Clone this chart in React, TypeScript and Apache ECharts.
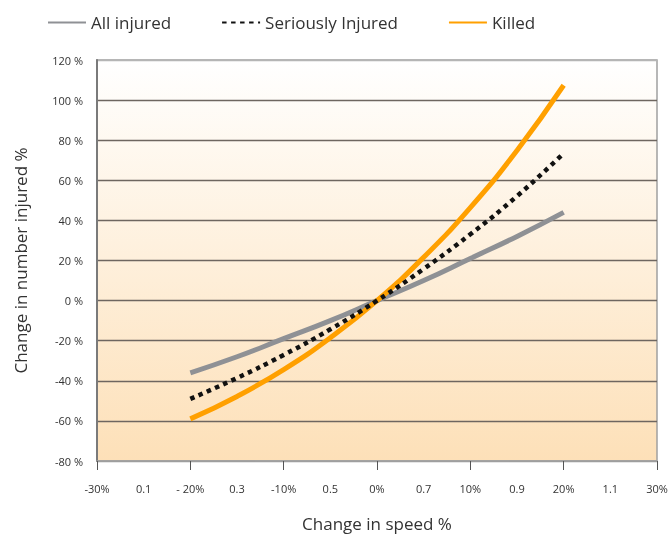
import React, { useEffect, useRef } from "react";
import * as echarts from "echarts";

const speedX = [-20, -15, -10, -5, 0, 5, 10, 15, 20];
const allInjured = [-36, -28, -19, -10, 0, 10, 21, 32, 44];
const seriouslyInjured = [-49, -38.6, -27.1, -14.3, 0, 15.8, 33.1, 52.1, 73.5];
const killed = [-59, -47.8, -34.4, -18.5, 0, 21.6, 46.4, 74.9, 107.4];
const xTickValues = [-30, -25, -20, -15, -10, -5, 0, 5, 10, 15, 20, 25, 30];
const xTickLabels = ["-30%", "0.1", "- 20%", "0.3", "-10%", "0.5", "0%", "0.7", "10%", "0.9", "20%", "1.1", "30%"];

const FONT = "'Open Sans', 'Noto Sans', sans-serif";

export default function App() {
  const ref = useRef<HTMLDivElement>(null);
  useEffect(() => {
    if (!ref.current) return;
    const chart = echarts.init(ref.current, undefined, { renderer: "svg" });
    const pair = (ys: number[]) => speedX.map((x, i) => [x, ys[i]]);
    const dark = "#6e6660";
    const gridColors = ["#9a9a9a", dark, dark, dark, dark, dark, dark, dark, dark, dark, "#b5b5b5"];
    chart.setOption({
      animation: false,
      textStyle: { fontFamily: FONT },
      legend: {
        top: 9,
        left: 42,
        itemWidth: 38,
        itemHeight: 6,
        itemGap: 50,
        itemStyle: { opacity: 0 },
        textStyle: { fontSize: 17, color: "#333", fontFamily: FONT },
        data: ["All injured", "Seriously Injured", "Killed"],
      },
      grid: {
        left: 97,
        width: 560,
        top: 60,
        height: 406,
        show: true,
        borderColor: "#a0a0a0",
        borderWidth: 1.5,
        backgroundColor: new echarts.graphic.LinearGradient(0, 0, 0, 1, [
          { offset: 0, color: "#ffffff" },
          { offset: 1, color: "#fde0b8" },
        ]),
      },
      xAxis: [
        {
          type: "value",
          min: -30,
          max: 30,
          interval: 5,
          name: "Change in speed %",
          nameLocation: "middle",
          nameGap: 54,
          nameTextStyle: { fontSize: 17, color: "#333", fontFamily: FONT },
          axisLine: { show: true, onZero: false, lineStyle: { color: "#a0a0a0", width: 1.5 } },
          axisTick: { show: false },
          splitLine: { show: false },
          axisLabel: {
            margin: 22,
            fontSize: 11,
            color: "#333",
            fontFamily: FONT,
            showMinLabel: true,
            showMaxLabel: true,
            formatter: (v: number) => {
              const i = xTickValues.indexOf(Math.round(v));
              return i >= 0 ? xTickLabels[i] : "";
            },
          },
        },
        {
          type: "value",
          min: -30,
          max: 30,
          interval: 10,
          position: "bottom",
          axisLine: { show: false, onZero: false },
          axisTick: { show: true, length: 9, lineStyle: { color: "#555", width: 1 } },
          axisLabel: { show: false },
          splitLine: { show: false },
        },
      ],
      yAxis: {
        type: "value",
        min: -80,
        max: 120,
        interval: 20,
        name: "Change in number injured %",
        nameLocation: "middle",
        nameGap: 68,
        nameRotate: 90,
        nameTextStyle: { fontSize: 17, color: "#333", fontFamily: FONT },
        axisLine: { show: true, onZero: false, lineStyle: { color: "#7a7a7a", width: 2 } },
        axisTick: { show: false },
        axisLabel: {
          margin: 14,
          fontSize: 11,
          color: "#333",
          fontFamily: FONT,
          formatter: (v: number) => `${v} %`,
        },
        splitLine: { show: true, lineStyle: { color: gridColors, width: 1.3 } },
      },
      series: [
        {
          name: "All injured",
          type: "line",
          smooth: true,
          showSymbol: false,
          symbol: "none",
          data: pair(allInjured),
          lineStyle: { color: "#8f9195", width: 5 },
          itemStyle: { color: "#8f9195" },
          z: 2,
        },
        {
          name: "Seriously Injured",
          type: "line",
          smooth: true,
          showSymbol: false,
          symbol: "none",
          data: pair(seriouslyInjured),
          lineStyle: { color: "#111", width: 4.5, type: [4.5, 4.5] },
          itemStyle: { color: "#111" },
          z: 4,
        },
        {
          name: "Killed",
          type: "line",
          smooth: true,
          showSymbol: false,
          symbol: "none",
          data: pair(killed),
          lineStyle: { color: "#ffa000", width: 5 },
          itemStyle: { color: "#ffa000" },
          z: 3,
        },
      ],
    });
    return () => chart.dispose();
  }, []);
  return (
    <div
      ref={ref}
      style={{ position: "fixed", left: 0, top: 0, width: 672, height: 537 }}
    />
  );
}
